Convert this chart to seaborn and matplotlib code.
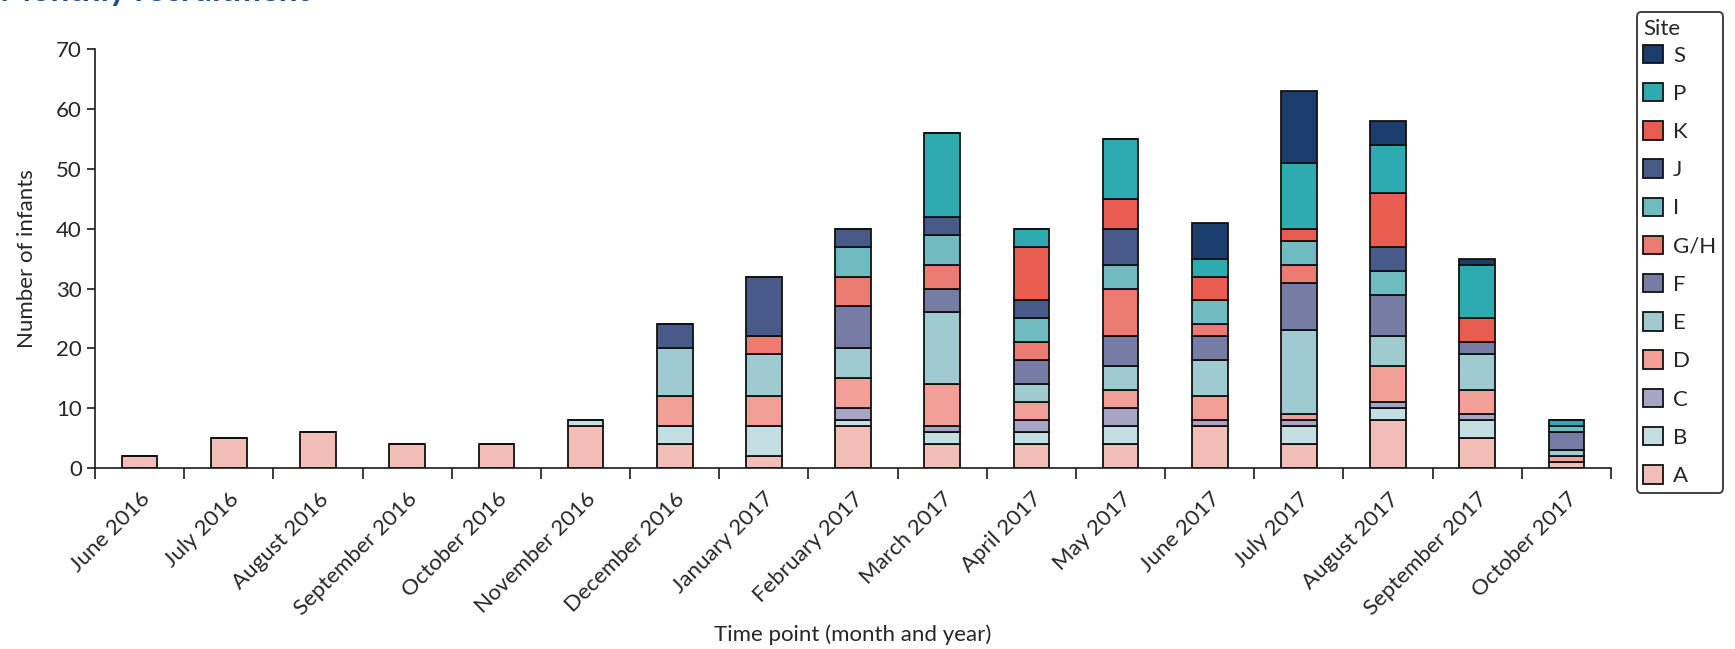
import pandas as pd
import seaborn as sns
import matplotlib.pyplot as plt

# months on the x axis
months = ['June 2016', 'July 2016', 'August 2016', 'September 2016', 'October 2016',
          'November 2016', 'December 2016', 'January 2017', 'February 2017', 'March 2017',
          'April 2017', 'May 2017', 'June 2017', 'July 2017', 'August 2017',
          'September 2017', 'October 2017']

# infants recruited per site and month
site_A = [2, 5, 6, 4, 4, 7, 4, 2, 7, 4, 4, 4, 7, 4, 8, 5, 1]
site_B = [0, 0, 0, 0, 0, 1, 3, 5, 1, 2, 2, 3, 0, 3, 2, 3, 0]
site_C = [0, 0, 0, 0, 0, 0, 0, 0, 2, 1, 2, 3, 1, 1, 1, 1, 0]
site_D = [0, 0, 0, 0, 0, 0, 5, 5, 5, 7, 3, 3, 4, 1, 6, 4, 1]
site_E = [0, 0, 0, 0, 0, 0, 8, 7, 5, 12, 3, 4, 6, 14, 5, 6, 1]
site_F = [0, 0, 0, 0, 0, 0, 0, 0, 7, 4, 4, 5, 4, 8, 7, 2, 3]
site_GH = [0, 0, 0, 0, 0, 0, 0, 3, 5, 4, 3, 8, 2, 3, 0, 0, 0]
site_I = [0, 0, 0, 0, 0, 0, 0, 0, 5, 5, 4, 4, 4, 4, 4, 0, 1]
site_J = [0, 0, 0, 0, 0, 0, 4, 10, 3, 3, 3, 6, 0, 0, 4, 0, 0]
site_K = [0, 0, 0, 0, 0, 0, 0, 0, 0, 0, 9, 5, 4, 2, 9, 4, 0]
site_P = [0, 0, 0, 0, 0, 0, 0, 0, 0, 14, 3, 10, 3, 11, 8, 9, 1]
site_S = [0, 0, 0, 0, 0, 0, 0, 0, 0, 0, 0, 0, 6, 12, 4, 1, 0]

# legend order (top of stack first)
sites = ['S', 'P', 'K', 'J', 'I', 'G/H', 'F', 'E', 'D', 'C', 'B', 'A']
counts = [site_S, site_P, site_K, site_J, site_I, site_GH, site_F, site_E,
          site_D, site_C, site_B, site_A]
colors = ['#1b3d6e', '#2eaab1', '#e85d4f', '#485a89', '#70bbbf', '#ec7b71',
          '#767ca3', '#9fcbd0', '#f2a097', '#a6a6c4', '#c4dfe1', '#f3bdb8']

rows = []
for site, vals in zip(sites, counts):
    for i, v in enumerate(vals):
        rows.append({'month_idx': i, 'Site': site, 'n': v})
df = pd.DataFrame(rows)

sns.set_theme(style='ticks')
plt.rcParams['font.family'] = ['Lato', 'DejaVu Sans']
plt.rcParams['axes.linewidth'] = 1.2
plt.rcParams['axes.edgecolor'] = '#1a1a1a'

fig = plt.figure(figsize=(17.35, 6.49), dpi=100)
ax = fig.add_axes([0.0548, 0.279, 0.8737, 0.645])

sns.histplot(data=df, x='month_idx', weights='n', hue='Site', hue_order=sites,
             palette=dict(zip(sites, colors)), multiple='stack', discrete=True,
             shrink=0.4, alpha=1, edgecolor='#111111', linewidth=1.3, ax=ax)

ax.set_xlim(-0.5, len(months) - 0.5)
ax.set_ylim(0, 70)
ax.set_yticks(range(0, 71, 10))
ax.set_xticks(range(len(months)))
ax.set_xticklabels(months, rotation=45, ha='right', va='top', rotation_mode='anchor')
ax.set_xticks([i - 0.5 for i in range(len(months) + 1)], minor=True)
ax.tick_params(axis='x', which='major', length=0, pad=15, labelsize=16)
ax.tick_params(axis='x', which='minor', length=8, width=1.2, color='#1a1a1a')
ax.tick_params(axis='y', length=6, width=1.2, labelsize=16, color='#1a1a1a')
sns.despine(ax=ax)

ax.set_xlabel('Time point (month and year)', fontsize=16, labelpad=4)
ax.set_ylabel('Number of infants', fontsize=16, labelpad=14)

sns.move_legend(ax, loc='upper right', bbox_to_anchor=(0.9995, 0.998),
                bbox_transform=fig.transFigure, frameon=True, fancybox=True,
                title='Site', fontsize=16, title_fontsize=16, handlelength=0.9,
                handleheight=0.9, labelspacing=0.78, handletextpad=0.45,
                borderpad=0.3, alignment='left')
leg = ax.get_legend()
leg._legend_box.sep = 4  # tighter gap under the title
leg.get_frame().set_edgecolor('#111111')
leg.get_frame().set_linewidth(1.4)

fig.text(0.0, 0.999, 'Monthly recruitment', fontsize=24, fontweight='bold',
         color='#1b4f8a', ha='left', va='baseline')

plt.savefig('out.png', dpi=100)
